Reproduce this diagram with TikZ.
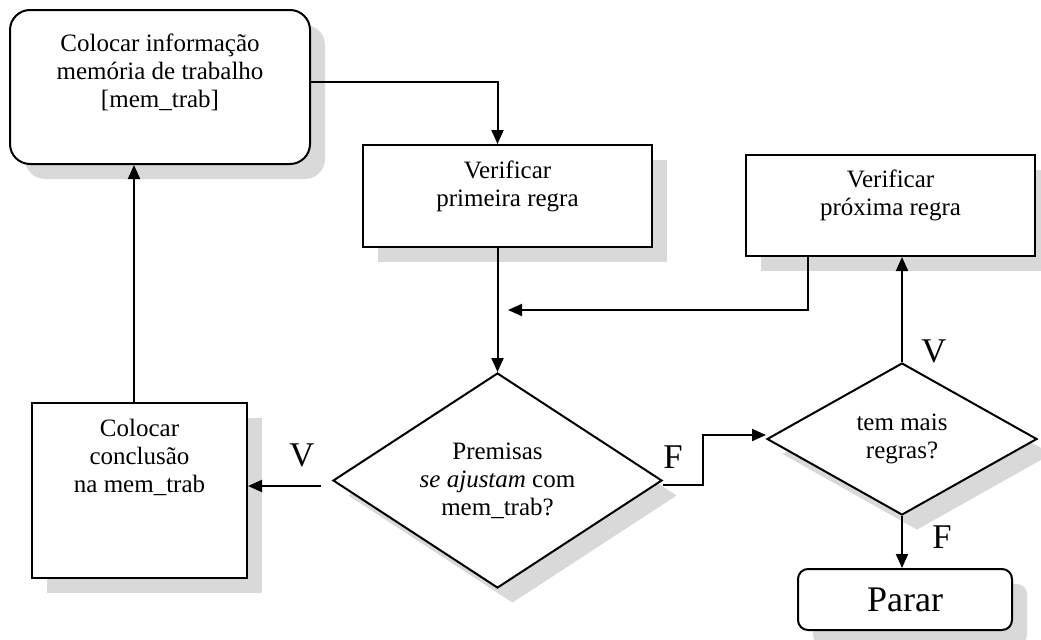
\documentclass[tikz,border=0pt]{standalone}
\usepackage{fontspec}
\setmainfont{Liberation Serif}
\usetikzlibrary{arrows.meta,positioning,shapes.geometric,shadows}

\begin{document}
\begin{tikzpicture}[x=0.75pt,y=-0.75pt,
  shdw/.style={drop shadow={shadow xshift=11.25pt,shadow yshift=-11.25pt,opacity=1,fill=black!15}},
  proc/.style={draw,line width=1.5pt,fill=white,shdw,inner sep=0pt},
  rproc/.style={proc,rounded corners=15pt},
  decis/.style={proc,diamond,aspect=1.5,align=center,font=\fontsize{18.75}{21}\selectfont},
  txt/.style={align=center,font=\fontsize{18.75}{21}\selectfont},
  yn/.style={font=\fontsize{26}{28}\selectfont},
  flow/.style={line width=1.5pt,-{Triangle[length=10.5pt,width=9pt]}}]
\useasboundingbox (0,0) rectangle (1041,639);

% boxes
\node[rproc,minimum width=225pt,minimum height=115.5pt] (info) at (160,87) {};
\node[txt] (infotxt) at (160,72) {Colocar informação\\memória de trabalho\\{}[mem\_trab]};

\node[proc,minimum width=216.75pt,minimum height=76.5pt] (verif1) at (507.5,196) {};
\node[txt] (verif1txt) at (507.5,186) {Verificar\\primeira regra};

\node[proc,minimum width=216.75pt,minimum height=75.75pt] (verif2) at (890.5,205.5) {};
\node[txt] (verif2txt) at (890.5,195) {Verificar\\próxima regra};

\node[proc,minimum width=161.25pt,minimum height=131.25pt] (concl) at (139.5,490.5) {};
\node[txt] (concltxt) at (139.5,457) {Colocar\\conclusão\\na mem\_trab};

% decisions
\node[decis,minimum width=246.75pt,minimum height=161.25pt] (prem) at (497.5,480.5) {Premisas\\\emph{se ajustam} com\\mem\_trab?};
\node[decis,minimum width=202.5pt,minimum height=114pt] (mais) at (902,439) {tem mais\\regras?};

\node[rproc,rounded corners=7.5pt,minimum width=160.5pt,minimum height=45.75pt,font=\fontsize{27}{29}\selectfont] (parar) at (905,599.5) {Parar};

% connectors
\coordinate (merge) at (508,310);
\coordinate (vstart) at (321,486);
\coordinate (upfoot) at (134,403);

\draw[flow] ([yshift=3.75pt]info.east) -| (prem.north |- verif1.north);
\draw[flow] (prem.north |- verif1.south) -- (prem.north);
\draw[flow] ([xshift=-61.875pt]verif2.south) |- (merge);
\draw[flow] (vstart) -- (vstart -| concl.east);
\draw[flow] (upfoot) -- (upfoot |- info.south);
\draw[flow] ([yshift=-3pt]prem.east) -- ++(40,0) |- ([yshift=3pt]mais.west);
\draw[flow] (mais.north) -- (mais.north |- verif2.south);
\draw[flow] (mais.south) -- (mais.south |- parar.north);

% V / F
\node[yn] (v1) at (302,455) {V};
\node[yn] (f1) at (673,457) {F};
\node[yn] (v2) at (934,351) {V};
\node[yn] (f2) at (942,537) {F};

\end{tikzpicture}
\end{document}
